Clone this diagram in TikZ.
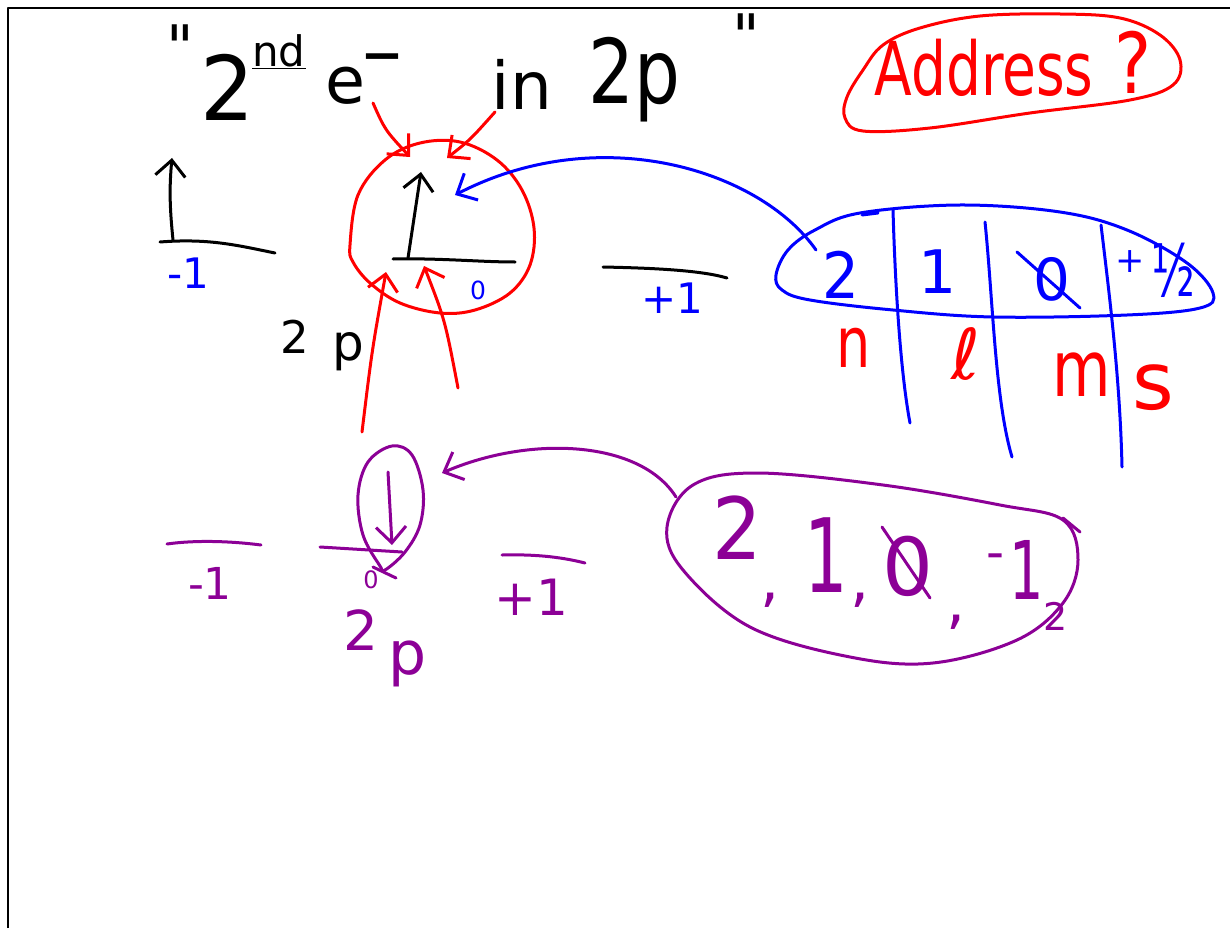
\documentclass[tikz,border=0pt]{standalone}
\usepackage{fontspec}
\usepackage{graphicx}
\setmainfont{DejaVu Sans}
\newfontfamily\qfont{DejaVu Sans}[Ligatures=TeXOff]
\usetikzlibrary{arrows.meta}
\definecolor{penred}{RGB}{255,0,0}
\definecolor{penblue}{RGB}{0,0,255}
\definecolor{penpurple}{RGB}{140,0,150}
\newcommand\hwfs[1]{\fontsize{#1}{#1}\selectfont}
\newcommand\hw[4]{\scalebox{#2}[#3]{\hwfs{#1}#4}}
\begin{document}
\begin{tikzpicture}[x=1pt,y=-1pt,
  pen/.style={line width=3pt,line cap=round,line join=round},
  barb/.style={-{Straight Barb[length=16pt,width=30pt]}},
  lbl/.style={inner sep=0pt,outer sep=0pt}]
\useasboundingbox (0,0) rectangle (1230,928);
\fill[white] (0,0) rectangle (1230,928);
% frame
\draw[pen,line width=2.6pt,line cap=butt] (8,928) -- (8,8) -- (1230,8);

% ---------- title ----------
\node[lbl] (lq) at (180,47) {\qfont\hwfs{60}\symbol{34}};
\node[lbl] (two) at (228,87) {\hw{85}{1}{1.05}{2}};
\node[lbl] (nd) at (279,52) {\hwfs{42}\underline{nd}};
\node[lbl] (ee) at (345,86) {\hwfs{65}e};
\node[lbl] (minus) at (382,66) {\hwfs{80}–};
\node[lbl] (inw) at (522,84) {\hwfs{66}in};
\node[lbl] (twop) at (634,80) {\hw{85}{0.85}{1.05}{2p}};
\node[lbl] (rq) at (746,36) {\qfont\hwfs{60}\symbol{34}};

% ---------- Address ? ----------
\node[lbl,text=penred] (addr) at (984,68) {\hw{55}{1}{1.35}{Address}};
\node[lbl,text=penred] (qm) at (1133,62) {\hw{70}{1}{1.2}{?}};
\draw[pen,penred] plot[smooth cycle,tension=0.6] coordinates {(847,97) (863,70) (883,45) (920,28) (980,16) (1060,14) (1120,18) (1160,35) (1180,60) (1173,85) (1130,100) (1030,113) (930,128) (863,131) (845,118)};

% ---------- top orbitals ----------
\draw[pen] (160,242) .. controls (210,238) and (240,246) .. (275,253);
\draw[pen] (393,259) .. controls (440,258) and (480,262) .. (515,262);
\draw[pen] (603,267) .. controls (650,268) and (700,270) .. (727,278);
\coordinate (ua1s) at (173,240); \coordinate (ua1e) at (172,158);
\draw[pen,barb] (ua1s) .. controls (170,210) and (169,190) .. (ua1e);
\coordinate (ua2s) at (408,258); \coordinate (ua2e) at (421,172);
\draw[pen,barb] (ua2s) -- (ua2e);
\node[lbl,text=penblue] (m1a) at (188,273) {\hwfs{42}-1};
\node[lbl,text=penblue] (z0a) at (478,290) {\hwfs{25}0};
\node[lbl,text=penblue] (p1a) at (672,298) {\hwfs{42}+1};
\node[lbl] (twoa) at (295,337) {\hwfs{45}2};
\node[lbl] (pa) at (348,352) {\hwfs{50}p};

% red circle and arrows
\draw[pen,penred] plot[smooth cycle,tension=0.6] coordinates {(350,245) (358,195) (385,160) (420,143) (460,142) (497,160) (522,190) (534,228) (530,265) (510,293) (475,310) (440,313) (400,303) (370,283) (353,262)};
\coordinate (ra1s) at (373,103); \coordinate (ra1e) at (410,157);
\draw[pen,penred,barb] (ra1s) .. controls (385,130) .. (ra1e);
\coordinate (ra2s) at (495,112); \coordinate (ra2e) at (447,158);
\draw[pen,penred,barb] (ra2s) .. controls (470,140) .. (ra2e);
\coordinate (ra3s) at (362,432); \coordinate (ra3e) at (386,272);
\draw[pen,penred,barb] (ra3s) .. controls (372,350) .. (ra3e);
\coordinate (ra4s) at (458,388); \coordinate (ra4e) at (424,266);
\draw[pen,penred,barb] (ra4s) .. controls (445,320) .. (ra4e);

% ---------- blue quantum number table ----------
\draw[pen,penblue] plot[smooth cycle,tension=0.6] coordinates {(776,275) (788,250) (815,230) (860,213) (960,205) (1060,212) (1127,230) (1187,263) (1213,293) (1200,308) (1127,315) (993,317) (893,310) (810,300) (782,290)};
\draw[pen,penblue] (862,215) -- (878,213);
\draw[pen,penblue] (893,210) .. controls (895,280) and (900,370) .. (910,423);
\draw[pen,penblue] (985,222) .. controls (993,300) and (995,400) .. (1012,457);
\draw[pen,penblue] (1101,225) .. controls (1110,300) and (1120,380) .. (1122,467);
\node[lbl,text=penblue] (qn) at (841,275) {\hw{58}{1}{1.1}{2}};
\node[lbl,text=penblue] (ql) at (938,272) {\hwfs{60}1};
\node[lbl,text=penblue] (qm0) at (1052,279) {\hwfs{58}0};
\draw[pen,penblue] (1017,252) -- (1080,308);
\node[lbl,text=penblue] (qplus) at (1130,262) {\hwfs{35}+};
\node[lbl,text=penblue] (qhalf) at (1173,270) {\hw{45}{1}{1.6}{½}};
\node[lbl,text=penred] (ln) at (854,348) {\hw{54}{1}{1.3}{n}};
\node[lbl,text=penred] (ll) at (966,354) {\hwfs{70}ℓ};
\node[lbl,text=penred] (lm) at (1082,375) {\hw{60}{1}{1.3}{m}};
\node[lbl,text=penred] (ls) at (1153,388) {\hwfs{80}s};
\coordinate (ba1s) at (816,250); \coordinate (ba1e) at (455,195);
\draw[pen,penblue,barb] (ba1s) .. controls (760,170) and (600,120) .. (ba1e);

% ---------- purple orbitals ----------
\draw[pen,penpurple] (167,544) .. controls (195,540) and (230,541) .. (261,545);
\draw[pen,penpurple] (320,547) -- (402,552);
\draw[pen,penpurple] (502,555) .. controls (540,554) and (565,558) .. (585,563);
\coordinate (da1s) at (388,472); \coordinate (da1e) at (392,545);
\draw[pen,penpurple,barb] (da1s) -- (da1e);
\draw[pen,penpurple] plot[smooth cycle,tension=0.6] coordinates {(380,566) (363,535) (358,495) (368,462) (392,446) (412,455) (423,490) (420,525) (405,552) (385,570)};
\draw[pen,penpurple] (373,567) -- (396,578);
\node[lbl,text=penpurple] (m1b) at (210,583) {\hwfs{44}-1};
\node[lbl,text=penpurple] (z0b) at (371,580) {\hwfs{24}0};
\node[lbl,text=penpurple] (p1b) at (531,597) {\hwfs{50}+1};
\node[lbl,text=penpurple] (twob) at (361,630) {\hwfs{55}2};
\node[lbl,text=penpurple] (pb) at (408,664) {\hwfs{60}p};

% purple big ellipse
\draw[pen,penpurple] plot[smooth cycle,tension=0.6] coordinates {(667,527) (693,485) (757,473) (883,485) (1000,505) (1063,520) (1078,560) (1063,603) (1017,640) (933,663) (850,657) (750,627) (683,570)};
\draw[pen,penpurple] (1063,518) -- (1080,532);
\node[lbl,text=penpurple] (pn) at (737,528) {\hw{78}{1}{1.1}{2}};
\node[lbl,text=penpurple] (c1) at (770,600) {\hwfs{60},};
\node[lbl,text=penpurple] (pl) at (826,555) {\hw{76}{0.9}{1.35}{1}};
\node[lbl,text=penpurple] (c2) at (860,600) {\hwfs{60},};
\node[lbl,text=penpurple] (pm) at (908,566) {\hwfs{80}0};
\draw[pen,penpurple] (882,527) -- (930,598);
\node[lbl,text=penpurple] (c3) at (956,622) {\hwfs{60},};
\node[lbl,text=penpurple] (pminus) at (996,562) {\hwfs{50}-};
\node[lbl,text=penpurple] (pone) at (1027,570) {\hw{60}{0.9}{1.35}{1}};
\node[lbl,text=penpurple] (ptwo) at (1056,616) {\hwfs{38}2};
\coordinate (pa1s) at (676,497); \coordinate (pa1e) at (442,473);
\draw[pen,penpurple,barb] (pa1s) .. controls (640,440) and (530,435) .. (pa1e);
\end{tikzpicture}
\end{document}
